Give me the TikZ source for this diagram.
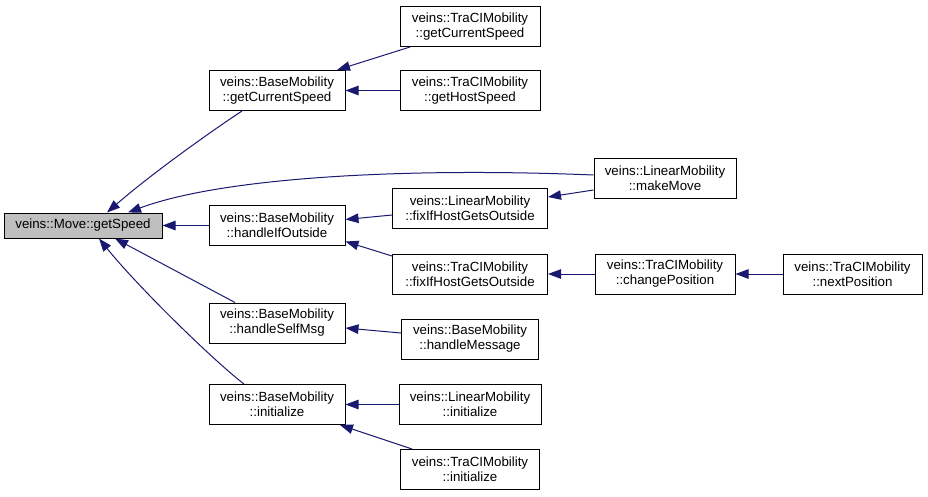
\documentclass[tikz,border=0pt]{standalone}
\usepackage{fontspec}
\setmainfont{Liberation Sans}
\usetikzlibrary{arrows.meta}
\definecolor{edgeblue}{HTML}{191970}
\definecolor{focusgray}{HTML}{BFBFBF}
\tikzset{
  fn/.style={draw=black, line width=1pt, rectangle, minimum height=40pt, inner sep=0pt,
    align=center, font=\fontsize{13.3pt}{15pt}\selectfont, fill=white},
  focus/.style={fn, minimum height=25pt, fill=focusgray},
  call/.style={draw=edgeblue, line width=1pt, -{Triangle[length=13pt,width=9.5pt]}, color=edgeblue}
}
\begin{document}
\begin{tikzpicture}[x=1pt,y=-1pt]
\useasboundingbox (0,0) rectangle (928,496);
% nodes
\node[focus, minimum width=158pt] (getSpeed) at (83,225.5) {veins::Move::getSpeed};
\node[fn, minimum width=136pt] (bgcs) at (277,90.5) {veins::BaseMobility\\::getCurrentSpeed};
\node[fn, minimum width=140pt] (tgcs) at (470,26.5) {veins::TraCIMobility\\::getCurrentSpeed};
\node[fn, minimum width=140pt] (thsp) at (470,90.5) {veins::TraCIMobility\\::getHostSpeed};
\node[fn, minimum width=142pt] (lmm) at (665,178) {veins::LinearMobility\\::makeMove};
\node[fn, minimum width=136pt] (bhio) at (277,225.5) {veins::BaseMobility\\::handleIfOutside};
\node[fn, minimum width=155pt] (lfix) at (470,208) {veins::LinearMobility\\::fixIfHostGetsOutside};
\node[fn, minimum width=155pt] (tfix) at (470,274) {veins::TraCIMobility\\::fixIfHostGetsOutside};
\node[fn, minimum width=140pt] (tcp) at (665,274) {veins::TraCIMobility\\::changePosition};
\node[fn, minimum width=139pt] (tnp) at (852.5,274) {veins::TraCIMobility\\::nextPosition};
\node[fn, minimum width=136pt] (bhsm) at (277,323) {veins::BaseMobility\\::handleSelfMsg};
\node[fn, minimum width=137pt] (bhm) at (470,339) {veins::BaseMobility\\::handleMessage};
\node[fn, minimum width=136pt] (binit) at (277,404.5) {veins::BaseMobility\\::initialize};
\node[fn, minimum width=142pt] (linit) at (470,404.5) {veins::LinearMobility\\::initialize};
\node[fn, minimum width=139pt] (tinit) at (470,469.5) {veins::TraCIMobility\\::initialize};
% edges (caller -> callee)
\draw[call] ([xshift=-35pt]bgcs.south) .. controls (210,132) and (150,175) .. ([xshift=24pt]getSpeed.north);
\draw[call] ([yshift=3pt]lmm.west) .. controls (400,167) and (220,178) .. ([xshift=45pt]getSpeed.north);
\draw[call] (bhio.west) -- (bhio.west -| getSpeed.east);
\draw[call] ([xshift=-42pt]bhsm.north) -- ([xshift=32pt]getSpeed.south);
\draw[call] ([xshift=-33pt]binit.north) .. controls (214,361) and (139,288) .. ([xshift=16pt]getSpeed.south);
\draw[call] ([xshift=-60pt]tgcs.south) -- ([xshift=60pt]bgcs.north);
\draw[call] (thsp.west) -- (thsp.west -| bgcs.east);
\draw[call] ([yshift=-7pt]lfix.west) -- ([yshift=6pt]bhio.east);
\draw[call] ([yshift=18pt]tfix.west) -- ([yshift=-16pt]bhio.east);
\draw[call] ([yshift=-12pt]lmm.west) -- ([yshift=11pt]lfix.east);
\draw[call] (tcp.west) -- (tcp.west -| tfix.east);
\draw[call] (tnp.west) -- (tnp.west -| tcp.east);
\draw[call] ([yshift=6pt]bhm.west) -- ([yshift=-5pt]bhsm.east);
\draw[call] (linit.west) -- (linit.west -| binit.east);
\draw[call] ([xshift=-58pt]tinit.north) -- ([xshift=63pt]binit.south);
\end{tikzpicture}
\end{document}
